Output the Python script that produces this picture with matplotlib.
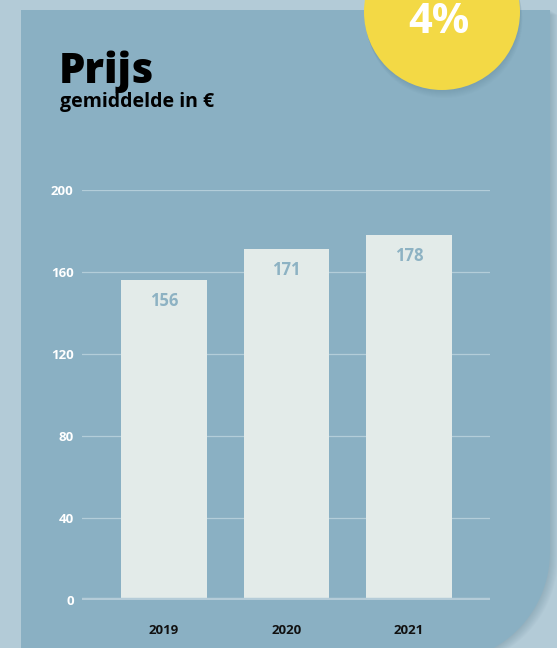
import numpy as np
import matplotlib
matplotlib.use("Agg")
import matplotlib.pyplot as plt
from matplotlib.path import Path
from matplotlib.patches import PathPatch, Circle

years = ["2019", "2020", "2021"]
prices = [156, 171, 178]
yticks = [0, 40, 80, 120, 160, 200]
title = "Prijs"
subtitle = "gemiddelde in €"
badge = "4%"

W, H = 557, 648
BG = "#b3cbd7"
PANEL = "#8ab0c3"
BAR = "#e3ebe9"
YELLOW = "#f3d945"
GRID = "#b3cdd9"

plt.rcParams['font.family'] = ['Open Sans', 'DejaVu Sans']

fig = plt.figure(figsize=(W / 100, H / 100), dpi=100)
fig.patch.set_facecolor(BG)

bg = fig.add_axes([0, 0, 1, 1])
bg.set_xlim(0, W)
bg.set_ylim(H, 0)
bg.axis("off")

# panel path with rounded bottom-right corner
L, T, R, B, rad = 21, 10, 550, 662, 110
theta = np.linspace(0, np.pi / 2, 30)
cx, cy = R - rad, B - rad
arc = [(cx + rad * np.cos(t), cy + rad * np.sin(t)) for t in theta]
verts = [(L, T), (R, T)] + arc + [(L, B), (L, T)]
codes = [Path.MOVETO] + [Path.LINETO] * (len(verts) - 2) + [Path.CLOSEPOLY]
panel_path = Path(verts, codes)

# soft shadow
for k in range(1, 9):
    sh = Path([(x + k, y + k * 0.6) for x, y in verts], codes)
    bg.add_patch(PathPatch(sh, facecolor="#5d7f8f", edgecolor="none", alpha=0.045, zorder=1))
bg.add_patch(PathPatch(panel_path, facecolor=PANEL, edgecolor="none", zorder=2))

# yellow badge with shadow
for k in range(1, 9):
    bg.add_patch(Circle((442 + k * 0.3, 12 + k), 78, facecolor="#5d7f8f", edgecolor="none",
                        alpha=0.04, zorder=3))
bg.add_patch(Circle((442, 12), 78, facecolor=YELLOW, edgecolor="none", zorder=4))
bg.text(439, 33, badge, color="white", fontsize=30, fontweight="bold",
        ha="center", va="baseline", zorder=5)

bg.text(59, 83, title, color="black", fontsize=30, fontweight="heavy",
        ha="left", va="baseline", zorder=5)
bg.text(60, 107, subtitle, color="black", fontsize=14, fontweight="bold",
        ha="left", va="baseline", zorder=5)

# chart axes
x0, x1, y0, y1 = 82, 490, 600, 190
ax = fig.add_axes([x0 / W, 1 - y0 / H, (x1 - x0) / W, (y0 - y1) / H])
ax.set_facecolor("none")
xs = np.arange(len(years))
ax.set_xlim(-0.67, 2.66)
ax.set_ylim(0, 200)
for s in ax.spines.values():
    s.set_visible(False)
for v in yticks[1:]:
    ax.axhline(v, color=GRID, lw=0.9, zorder=1)
bars = ax.bar(xs, prices, width=0.70, color=BAR, zorder=2)
ax.axhline(0, color="#b5ccd8", lw=3.2, zorder=3)
for x, p in zip(xs, prices):
    ax.annotate(str(p), (x, p), xytext=(0, -15), textcoords="offset points",
                ha="center", va="center", color="#8db2c3", fontsize=12,
                fontweight="bold", zorder=4)
ax.set_yticks(yticks)
ax.set_yticklabels([str(v) for v in yticks], color="white", fontsize=9.5, fontweight="bold")
ax.set_xticks(xs)
ax.set_xticklabels(years, color="#111111", fontsize=9.5, fontweight="bold")
ax.tick_params(axis="y", length=0, pad=6)
ax.tick_params(axis="x", length=0, pad=17)

fig.savefig("out.png", dpi=100, facecolor=fig.get_facecolor())
